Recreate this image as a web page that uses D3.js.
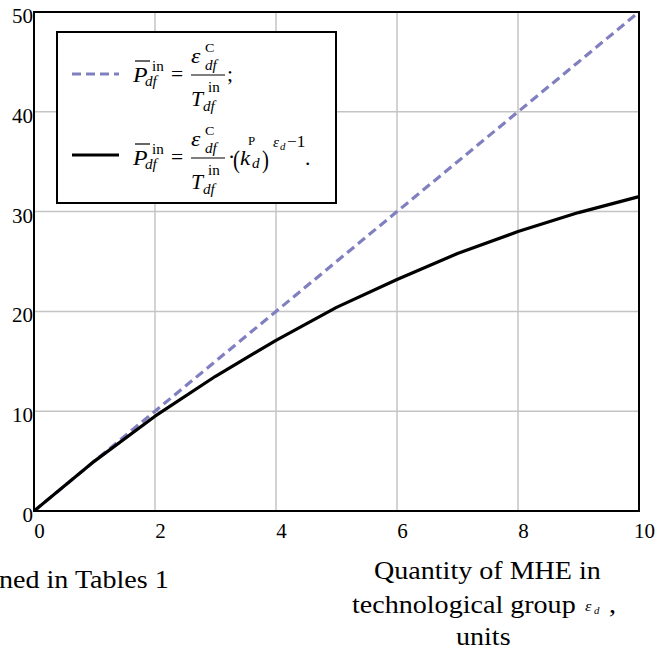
<!DOCTYPE html>
<html>
<head>
<meta charset="utf-8">
<script src="https://cdn.jsdelivr.net/npm/d3@7"></script>
<style>
  body { margin: 0; background: #fff; }
  svg text { font-family: "Liberation Serif", "Times New Roman", serif; fill: #000; }
</style>
</head>
<body>
<div id="chart"></div>
<script>
// data
var quantity = [0, 1, 2, 3, 4, 5, 6, 7, 8, 9, 10];
var linearLoad = [0, 5, 10, 15, 20, 25, 30, 35, 40, 45, 50];
var reducedLoad = [0, 5, 9.5, 13.5, 17.1, 20.4, 23.2, 25.8, 28.0, 29.9, 31.5];
var xTicks = [0, 2, 4, 6, 8, 10];
var yTicks = [0, 10, 20, 30, 40, 50];

var width = 657, height = 652;
var plotL = 34, plotR = 639, plotT = 12, plotB = 511;

var svg = d3.select("#chart").append("svg")
    .attr("width", width)
    .attr("height", height);

var x = d3.scaleLinear().domain([0, 10]).range([plotL, plotR]);
var y = d3.scaleLinear().domain([0, 50]).range([plotB, plotT]);

// grid
svg.append("g").selectAll("line")
    .data(xTicks.slice(1, -1))
    .enter().append("line")
    .attr("x1", function(d) { return x(d); })
    .attr("x2", function(d) { return x(d); })
    .attr("y1", plotT).attr("y2", plotB)
    .attr("stroke", "#c4c4c4").attr("stroke-width", 1.5);

svg.append("g").selectAll("line")
    .data(yTicks.slice(1, -1))
    .enter().append("line")
    .attr("x1", plotL).attr("x2", plotR)
    .attr("y1", function(d) { return y(d); })
    .attr("y2", function(d) { return y(d); })
    .attr("stroke", "#c4c4c4").attr("stroke-width", 1.5);

// axes (labels only, the frame is drawn below)
var xAxis = svg.append("g")
    .attr("transform", "translate(5," + plotB + ")")
    .call(d3.axisBottom(x).tickValues(xTicks).tickSize(0).tickPadding(0));
xAxis.attr("font-family", null).attr("font-size", null);
xAxis.select(".domain").remove();
xAxis.selectAll("text")
    .style("font-size", "21px")
    .attr("dy", null)
    .attr("y", 27);

var yAxis = svg.append("g")
    .attr("transform", "translate(" + (plotL - 1) + ",0)")
    .call(d3.axisLeft(y).tickValues(yTicks).tickSize(0).tickPadding(0));
yAxis.attr("font-family", null).attr("font-size", null);
yAxis.select(".domain").remove();
yAxis.selectAll("text")
    .style("font-size", "21px")
    .attr("dy", "0.5em");

// clip
svg.append("clipPath").attr("id", "plot")
    .append("rect").attr("x", plotL).attr("y", plotT - 2)
    .attr("width", plotR - plotL + 2).attr("height", plotB - plotT + 2);

var line = d3.line()
    .x(function(d) { return x(d[0]); })
    .y(function(d) { return y(d[1]); });

var plot = svg.append("g").attr("clip-path", "url(#plot)");

plot.append("path")
    .datum(d3.zip(quantity, linearLoad))
    .attr("d", line)
    .attr("fill", "none")
    .attr("stroke", "#8080c0")
    .attr("stroke-width", 3.2)
    .attr("stroke-dasharray", "9,5");

plot.append("path")
    .datum(d3.zip(quantity, reducedLoad))
    .attr("d", line)
    .attr("fill", "none")
    .attr("stroke", "#000")
    .attr("stroke-width", 3.2)
    .attr("stroke-linejoin", "round");

// frame
svg.append("rect")
    .attr("x", plotL).attr("y", plotT)
    .attr("width", plotR - plotL).attr("height", plotB - plotT)
    .attr("fill", "none").attr("stroke", "#000").attr("stroke-width", 2);

// legend
var lg = svg.append("g");
lg.append("rect")
    .attr("x", 57).attr("y", 32).attr("width", 279).attr("height", 171)
    .attr("fill", "#fff").attr("stroke", "#000").attr("stroke-width", 2);

lg.append("line")
    .attr("x1", 72).attr("x2", 119).attr("y1", 74).attr("y2", 74)
    .attr("stroke", "#8080c0").attr("stroke-width", 3.2).attr("stroke-dasharray", "9,5");
lg.append("line")
    .attr("x1", 72).attr("x2", 119).attr("y1", 155).attr("y2", 155)
    .attr("stroke", "#000").attr("stroke-width", 3.2);

// text drawn slightly widened, as in the source picture
function txt(g, s, tx, ty, size, italic, sx) {
    return g.append("text")
        .attr("transform", "translate(" + tx + "," + ty + ") scale(" + (sx || 1.08) + ",1)")
        .style("font-size", size + "px")
        .style("font-style", italic ? "italic" : "normal")
        .text(s);
}

function formulaLeft(g, by) {
    // P with bar, superscript "in", subscript df
    txt(g, "P", 133, by + 7, 22, true);
    g.append("line").attr("x1", 135).attr("x2", 150).attr("y1", by - 14).attr("y2", by - 14)
        .attr("stroke", "#000").attr("stroke-width", 1.2);
    txt(g, "in", 152, by - 4, 14, false);
    txt(g, "df", 145, by + 11, 14, true);
    txt(g, "=", 171, by + 6, 20, false);
    // fraction
    txt(g, "\u03B5", 191, by - 12, 22, true);
    txt(g, "C", 205, by - 23, 13, false);
    txt(g, "df", 205, by - 5, 14, true);
    g.append("line").attr("x1", 191).attr("x2", 225).attr("y1", by).attr("y2", by)
        .attr("stroke", "#000").attr("stroke-width", 1.2);
    txt(g, "in", 208, by + 17, 14, false);
    txt(g, "T", 191, by + 31, 20, true);
    txt(g, "df", 203, by + 36, 14, true);
}

var r1 = lg.append("g");
formulaLeft(r1, 75);
txt(r1, ";", 227, 81, 20, false);

var r2 = lg.append("g");
formulaLeft(r2, 158);
txt(r2, "\u00B7", 228, 164, 20, false);
txt(r2, "(", 233, 168, 26, false, 0.8);
txt(r2, "k", 240, 165, 21, true);
txt(r2, "P", 248, 145, 12, false);
txt(r2, "d", 252, 168, 14, true);
txt(r2, ")", 262, 168, 26, false, 0.8);
txt(r2, "\u03B5", 273, 147, 14, true);
txt(r2, "d", 280, 150, 10, true);
txt(r2, "\u22121", 287, 147, 16, false);
txt(r2, ".", 305, 165, 20, false);

// captions below the chart
txt(svg, "ned in Tables 1", -1, 588, 26, false);

txt(svg, "Quantity of MHE in", 374, 579, 26, false);
txt(svg, "technological group", 352, 613, 26, false);
txt(svg, "\u03B5", 585, 611, 15, true);
txt(svg, "d", 594, 614, 10, true);
txt(svg, ",", 609, 613, 26, false);
txt(svg, "units", 456, 645, 26, false);
</script>
</body>
</html>
